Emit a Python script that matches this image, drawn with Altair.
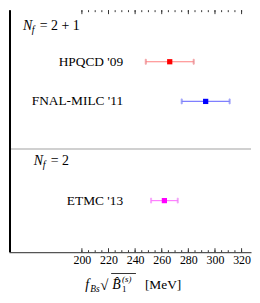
import altair as alt
import pandas as pd

# ---- data ----
collabs = ["HPQCD '09", "FNAL-MILC '11", "ETMC '13"]
central = [266, 293, 262]
err_lo = [248, 275, 252]
err_hi = [284, 311, 272]
rows = [1.5, 2.5, 5.0]
marker_colors = ["#ff0000", "#0000ff", "#ff00ff"]
bar_colors = ["#ff7f7f", "#7f7fff", "#ff7fff"]

group_labels = ["2 + 1", "2"]
group_rows = [0.6, 4.0]
group_x = [155.7, 163.9]
separator_row = [3.7]

tick_labels = [200, 220, 240, 260, 280, 300, 320]
minor_ticks = list(range(200, 325, 5))

label_x = 231
FONT = "Liberation Serif"
W, H = 244, 244

df = pd.DataFrame({"collab": collabs, "c": central, "lo": err_lo, "hi": err_hi, "row": rows})
caps = pd.DataFrame({"collab": collabs * 2, "v": err_lo + err_hi, "row": rows * 2})
grp = pd.DataFrame({"lab": group_labels, "row": group_rows, "gx": group_x})
sep = pd.DataFrame({"row": separator_row})
tmaj = pd.DataFrame({"t": tick_labels})
tmin = pd.DataFrame({"t": minor_ticks})

xs = alt.Scale(domain=[145.22, 327.08], nice=False, zero=False)
ys = alt.Scale(domain=[0.2, 6.3], reverse=True, nice=False, zero=False)
fill_m = alt.Fill("collab:N", scale=alt.Scale(domain=collabs, range=marker_colors), legend=None)
stroke_b = alt.Stroke("collab:N", scale=alt.Scale(domain=collabs, range=bar_colors), legend=None)

Y = lambda f: alt.Y(f, scale=ys, axis=None)

axis_x = alt.Axis(values=tick_labels, ticks=False, grid=False, title=None,
                  labelFont=FONT, labelFontSize=12, labelColor="black",
                  labelPadding=2, domainColor="#555", domainWidth=1.3, labelFlush=False)

bars = alt.Chart(df).mark_rule(strokeWidth=1.2).encode(
    x=alt.X("lo:Q", scale=xs, axis=axis_x), x2="hi:Q", y=Y("row:Q"), stroke=stroke_b)

sep_layer = alt.Chart(sep).mark_rule(color="#c0c0c0", strokeWidth=1.5).encode(
    x=alt.value(0), x2=alt.value(W), y=Y("row:Q"))

cap_layer = alt.Chart(caps).mark_tick(orient="vertical", size=5, thickness=1).encode(
    x=alt.X("v:Q", scale=xs), y=Y("row:Q"), stroke=stroke_b)

pts = alt.Chart(df).mark_square(size=28, opacity=1).encode(
    x=alt.X("c:Q", scale=xs), y=Y("row:Q"), fill=fill_m)

names = alt.Chart(df).mark_text(align="right", baseline="middle", font=FONT, fontSize=13.5,
                                color="black").encode(
    x=alt.datum(label_x, scale=xs), y=Y("row:Q"), text="collab:N")

nN = alt.Chart(grp).mark_text(align="left", baseline="middle", font=FONT, fontSize=14,
                              fontStyle="italic", color="black").encode(
    x=alt.X("gx:Q", scale=xs), y=Y("row:Q"), text=alt.value("N"))
nf = alt.Chart(grp).mark_text(align="left", baseline="middle", font=FONT, fontSize=10,
                              fontStyle="italic", color="black", dx=9, dy=4).encode(
    x=alt.X("gx:Q", scale=xs), y=Y("row:Q"), text=alt.value("f"))
neq = alt.Chart(grp).mark_text(align="left", baseline="middle", font=FONT, fontSize=14,
                               color="black", dx=17).encode(
    x=alt.X("gx:Q", scale=xs), y=Y("row:Q"), text=alt.Text("eq:N")).transform_calculate(
    eq="'= ' + datum.lab")

def ticks(df_, y1, y2):
    return alt.Chart(df_).mark_rule(color="#333", strokeWidth=1).encode(
        x=alt.X("t:Q", scale=xs), y=alt.value(y1), y2=alt.value(y2))

tick_layers = [ticks(tmaj, H, H - 4), ticks(tmin, H, H - 2), ticks(tmaj, 0, 4), ticks(tmin, 0, 2)]

left_line = alt.Chart(sep).mark_rule(color="black", strokeWidth=2).encode(
    x=alt.value(1), y=alt.value(0), y2=alt.value(H))

def txt(s, x, y, size=13.5, italic=False):
    kw = dict(align="left", baseline="alphabetic", font=FONT, fontSize=size, color="black")
    if italic:
        kw["fontStyle"] = "italic"
    return alt.Chart(sep).mark_text(**kw).encode(x=alt.value(x), y=alt.value(y), text=alt.value(s))

TB = 281.5
title_layers = [
    txt("f", 77, TB, 14, True),
    txt("Bs", 82, TB + 2.5, 9.5, True),
    txt("\u221a", 92, TB + 1, 15),
    txt("B\u0302", 104, TB, 14, True),
    txt("1", 114, TB + 2.5, 9),
    txt("(s)", 114, TB - 7, 9, True),
    txt("[MeV]", 137, TB, 13.5),
    alt.Chart(sep).mark_rule(color="black", strokeWidth=0.8).encode(
        x=alt.value(103), x2=alt.value(128), y=alt.value(TB - 16)),
]

chart = alt.layer(bars, sep_layer, cap_layer, pts, names, nN, nf, neq, left_line,
                  *tick_layers, *title_layers).properties(
    width=W, height=H, padding=0).configure_view(stroke=None)

chart.save("out.html", embed_options={"renderer": "svg", "actions": False})
